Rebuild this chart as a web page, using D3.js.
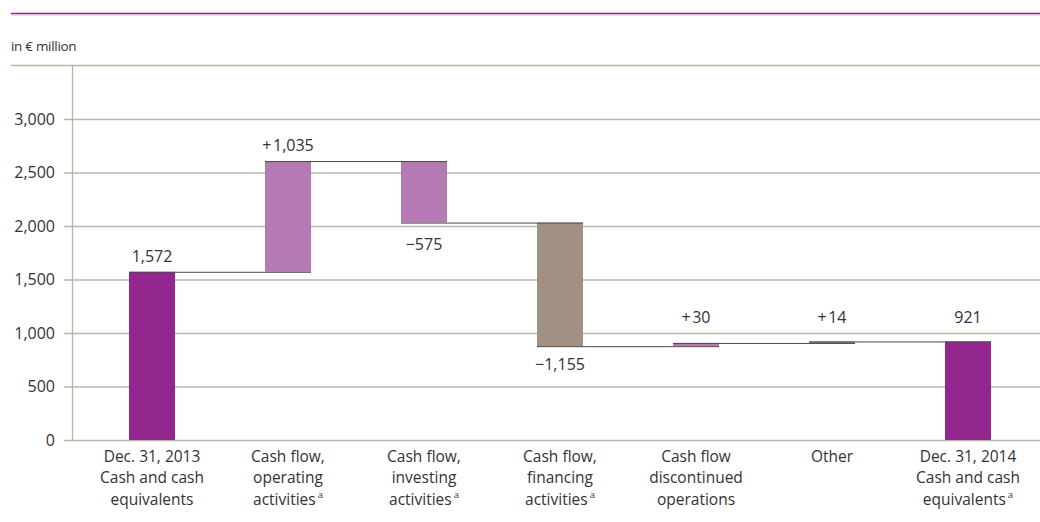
<!DOCTYPE html>
<html>
<head>
<meta charset="utf-8">
<script src="https://cdn.jsdelivr.net/npm/d3@7"></script>
<style>
  html, body { margin: 0; padding: 0; background: #fff; }
  svg { display: block; font-family: "Open Sans", "Noto Sans", sans-serif; }
</style>
</head>
<body>
<svg id="chart" width="1040" height="522"></svg>
<script>
// Cash and cash equivalents bridge, 2013 to 2014 (in € million)
const categoryLines = [
  ["Dec. 31, 2013", "Cash and cash", "equivalents"],
  ["Cash flow,", "operating", "activities"],
  ["Cash flow,", "investing", "activities"],
  ["Cash flow,", "financing", "activities"],
  ["Cash flow", "discontinued", "operations"],
  ["Other"],
  ["Dec. 31, 2014", "Cash and cash", "equivalents"]
];
const categoryNotes = ["", "a", "a", "a", "", "", "a"];
const stepValues = [1572, 1035, -575, -1155, 30, 14, 921];
const stepKinds = ["total", "change", "change", "change", "change", "change", "total"];
const barColors = ["#93278f", "#b57ab3", "#b57ab3", "#a09184", "#b57ab3", "#b57ab3", "#93278f"];
const yTicks = [0, 500, 1000, 1500, 2000, 2500, 3000];
const yMax = 3500;

const svg = d3.select("#chart");
const textColor = "#333333";
const gridColor = "#bdb3a9";

// running totals: each bar spans [start, end]
let running = 0;
const bars = stepValues.map((v, i) => {
  let start, end;
  if (stepKinds[i] === "total") { start = 0; end = v; running = v; }
  else { start = running; end = running + v; running = end; }
  return { i, value: v, kind: stepKinds[i], start, end,
           lo: Math.min(start, end), hi: Math.max(start, end) };
});

const x = d3.scaleBand().domain(d3.range(categoryLines.length)).range([84, 1036]);
const barW = 46;
const bx = i => x(i) + x.bandwidth() / 2 - barW / 2;
const y = d3.scaleLinear().domain([0, yMax]).range([440, 65.5]);

// header rule
svg.append("line").attr("x1", 11).attr("x2", 1040).attr("y1", 13.5).attr("y2", 13.5)
  .attr("stroke", "#8a2a87").attr("stroke-width", 1.6);
svg.append("line").attr("x1", 11).attr("x2", 1040).attr("y1", 15).attr("y2", 15)
  .attr("stroke", "#e4aee0").attr("stroke-width", 1.2);

svg.append("text").attr("x", 11).attr("y", 51)
  .attr("font-size", 13.5).attr("fill", textColor).attr("letter-spacing", -0.3)
  .text("in € million");

// top frame line
svg.append("line").attr("x1", 11).attr("x2", 1040).attr("y1", y(yMax)).attr("y2", y(yMax))
  .attr("stroke", gridColor).attr("stroke-width", 1.3);

// horizontal gridlines with left axis
const yAxis = d3.axisLeft(y).tickValues(yTicks).tickFormat(d3.format(","))
  .tickSize(-(1040 - 72)).tickPadding(17);
const axisG = svg.append("g").attr("transform", "translate(72,0)").call(yAxis);
axisG.select(".domain").remove();
axisG.selectAll(".tick line").attr("x1", -8).attr("stroke", gridColor).attr("stroke-width", 1.3);
axisG.selectAll(".tick text").attr("font-size", 16).attr("fill", textColor)
  .attr("font-family", "\"Open Sans\", sans-serif");
svg.append("line").attr("x1", 72.5).attr("x2", 72.5).attr("y1", y(yMax)).attr("y2", y(0))
  .attr("stroke", gridColor).attr("stroke-width", 1.3);

// bars
svg.append("g").selectAll("rect").data(bars).join("rect")
  .attr("x", d => bx(d.i)).attr("width", barW)
  .attr("y", d => y(d.hi)).attr("height", d => Math.max(0.5, y(d.lo) - y(d.hi)))
  .attr("fill", d => barColors[d.i]);

// connectors from each bar's level to the next bar
svg.append("g").selectAll("line").data(bars.slice(0, -1)).join("line")
  .attr("x1", d => bx(d.i)).attr("x2", d => bx(d.i + 1) + barW)
  .attr("y1", d => y(d.end) + 0.5).attr("y2", d => y(d.end) + 0.5)
  .attr("stroke", "#4a4a4a").attr("stroke-width", 1);

// value labels: above rising/total bars, below falling bars; kept clear of gridlines
const gridPx = yTicks.map(t => y(t));
const fmtTotal = d3.format(",");
const fmtChange = v => d3.format("+,")(v).replace("+", "+\u200A");
svg.append("g").selectAll("text").data(bars).join("text")
  .attr("x", d => bx(d.i) + barW / 2)
  .attr("y", d => {
    if (d.value >= 0) {
      let a = y(d.hi);
      gridPx.forEach(g => { if (g < a && a - g < 12) a = g; });
      return a - 10;
    } else {
      let a = y(d.lo);
      gridPx.forEach(g => { if (g > a && g - a < 12) a = g; });
      return a + 24;
    }
  })
  .attr("text-anchor", "middle").attr("font-size", 16).attr("fill", textColor)
  .text(d => d.kind === "total" ? fmtTotal(d.value) : fmtChange(d.value));

// category labels
const catG = svg.append("g").selectAll("text").data(categoryLines).join("text")
  .attr("text-anchor", "middle").attr("font-size", 15.5).attr("fill", textColor)
  .attr("transform", (d, i) => `translate(${x(i) + x.bandwidth() / 2},462)`);
catG.each(function (lines, i) {
  const t = d3.select(this);
  lines.forEach((ln, k) => {
    t.append("tspan").attr("x", 0).attr("y", k * 21.3).text(ln);
  });
  if (categoryNotes[i]) {
    // footnote marker raised after the last line
    const last = d3.select(t.selectAll("tspan").nodes().pop());
    const txt = last.text();
    last.text(null);
    last.append("tspan").text(txt);
    last.append("tspan").attr("font-size", 9.5).attr("dx", 2).attr("dy", -7).text(categoryNotes[i]);
  }
});
</script>
</body>
</html>
